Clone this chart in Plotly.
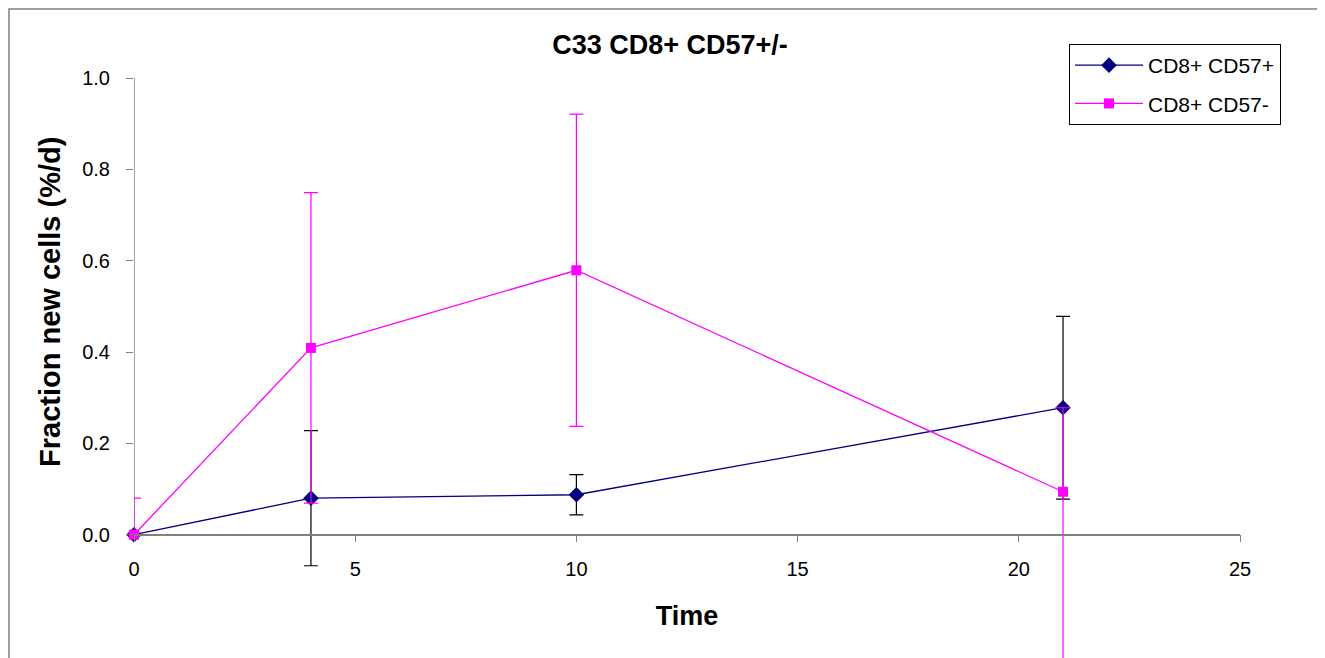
import plotly.graph_objects as go

time = [0, 4, 10, 21]
pos_vals = [0.0, 0.08, 0.0875, 0.278]
pos_err = [0.0, 0.148, 0.044, 0.20]
neg_vals = [0.0, 0.409, 0.579, 0.094]
neg_err_plus = [0.08, 0.34, 0.342, 0.184]
neg_err_minus = [0.0, 0.34, 0.342, 0.40]

FONT = "Liberation Sans, Arial, sans-serif"

# the page body has an 8px margin, so figure coords = screen coords - 8
OFF = 8
Y_MIN, Y_MAX = -0.27, 1.0
L, R, T, B = 134 - OFF, 1240 - OFF, 78 - OFF, 658 - OFF
W, H = 1325 - OFF, 658 - OFF


def px_x(p):
    return (p - OFF - L) / (R - L)


def px_y(p):
    return (B - (p - OFF)) / (B - T)


fig = go.Figure()
fig.add_trace(go.Scatter(
    x=time, y=pos_vals, mode="lines+markers", name="CD8+ CD57+",
    line=dict(color="#000080", width=1.3),
    marker=dict(symbol="diamond", size=12, color="#000080"),
    error_y=dict(type="data", array=pos_err, symmetric=True, color="#000000",
                 thickness=1.2, width=7),
    legendgroup="a", cliponaxis=False,
))
fig.add_trace(go.Scatter(
    x=time, y=neg_vals, mode="lines+markers", name="CD8+ CD57-",
    line=dict(color="#FF00FF", width=1.3),
    marker=dict(symbol="square", size=10, color="#FF00FF"),
    error_y=dict(type="data", array=neg_err_plus, arrayminus=neg_err_minus,
                 symmetric=False, color="#FF00FF", thickness=1.2, width=7),
    legendgroup="b", cliponaxis=False,
))

fig.update_layout(
    width=W, height=H,
    margin=dict(l=L, r=W - R, t=T, b=H - B),
    paper_bgcolor="white", plot_bgcolor="white",
    font=dict(family=FONT, color="black", size=20),
    title=dict(text="<b>C33 CD8+ CD57+/-</b>", x=px_x(670), xref="paper",
               xanchor="center", y=1 - (45 - OFF) / H, yanchor="middle",
               font=dict(size=27, family=FONT)),
    showlegend=True,
    legend=dict(x=px_x(1069), y=px_y(44), xanchor="left", yanchor="top",
                bordercolor="#000000", borderwidth=1, bgcolor="white",
                font=dict(size=21, family=FONT), tracegroupgap=8,
                traceorder="grouped", itemwidth=68),
    xaxis=dict(range=[0, 25], tickvals=[0, 5, 10, 15, 20, 25], showline=True,
               linecolor="#808080", linewidth=1.5, ticks="outside", ticklen=7,
               tickcolor="#808080", showgrid=False, zeroline=False,
               anchor="free", position=(0 - Y_MIN) / (Y_MAX - Y_MIN),
               automargin=False,
               ticklabelstandoff=10, tickfont=dict(size=20),
               title=dict(text="<b>Time</b>", font=dict(size=27), standoff=26)),
    yaxis=dict(range=[Y_MIN, Y_MAX], tickvals=[0, 0.2, 0.4, 0.6, 0.8, 1.0],
               tickformat=".1f", showline=False,
               ticks="outside", ticklen=7, tickcolor="#808080", showgrid=False,
               zeroline=False, ticklabelstandoff=12, tickfont=dict(size=20),
               automargin=False),
)

# y axis title, centred on the 0..1 span of the axis
fig.add_annotation(text="<b>Fraction new cells (%/d)</b>", textangle=-90,
                   xref="paper", yref="paper", x=px_x(50), y=px_y(302),
                   xanchor="center", yanchor="middle", showarrow=False,
                   font=dict(size=29, family=FONT))

# y axis line (only from 0 to 1, as in the original)
fig.add_shape(type="line", xref="x", yref="y", x0=0, x1=0, y0=0, y1=1.0,
              line=dict(color="#808080", width=1.5), layer="below")

# outer chart frame
fig.add_shape(type="rect", xref="paper", yref="paper",
              x0=px_x(9), x1=px_x(1322), y0=px_y(700), y1=px_y(9),
              line=dict(color="#808080", width=1.5), fillcolor="rgba(0,0,0,0)",
              layer="below")

fig.write_html("out.html")
